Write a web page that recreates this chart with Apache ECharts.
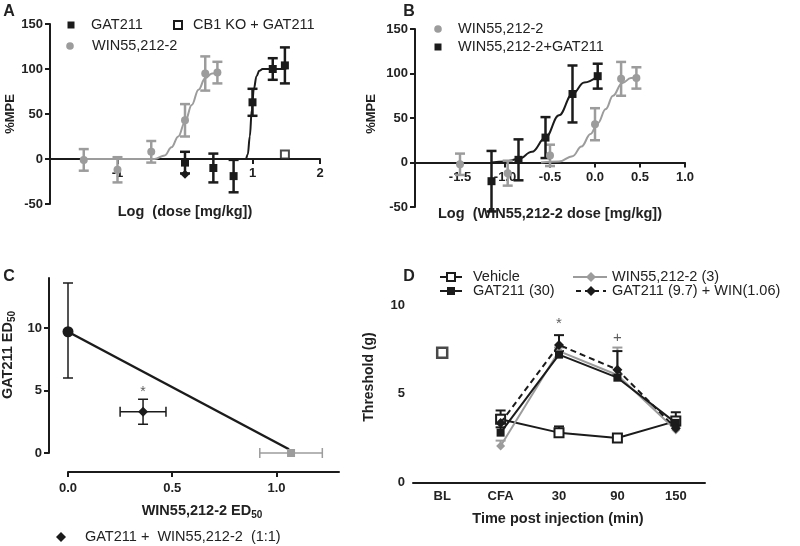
<!DOCTYPE html>
<html lang="en">
<head>
<meta charset="UTF-8">
<title>GAT211 / WIN55,212-2</title>
<script src="https://cdn.jsdelivr.net/npm/echarts@6/dist/echarts.min.js"></script>
<style>
  html, body { margin: 0; padding: 0; background: #fff; }
  #chart { width: 800px; height: 546px; }
</style>
</head>
<body>
<div id="chart"></div>
<script>
const GRAY = '#9c9c9c', BLACK = '#1b1b1b';
const FONT = "'Liberation Sans', Arial, sans-serif";

// panel A: dose response, log dose
const aWinX = [-1.5, -1.0, -0.5, 0.0, 0.3, 0.48];
const aWinY = [-1, -12, 8, 43, 95, 96];
const aWinErr = [12, 14, 12, 18, 19, 12];
const aGatX = [0.0, 0.42, 0.72, 1.0, 1.3, 1.48];
const aGatY = [-4, -10, -19, 63, 100, 104];
const aGatErr = [12, 16, 18, 15, 12, 20];
const aKoX = [1.48];
const aKoY = [5];
const aExtraX = [0.0];
const aExtraY = [-17];
const aWinFitX = [-1.5, -0.45, -0.3, -0.2, -0.1, 0.0, 0.1, 0.2, 0.3, 0.4, 0.48];
const aWinFitY = [0, 0, 4, 13, 25, 41, 60, 77, 90, 95, 96];
const aGatFitX = [0.0, 0.9, 0.93, 0.96, 0.99, 1.02, 1.06, 1.1, 1.15, 1.5];
const aGatFitY = [0, 0, 5, 25, 55, 78, 92, 98, 100, 100];

// panel B: WIN55,212-2 alone vs with GAT211
const bWinX = [-1.5, -0.97, -0.5, 0.0, 0.29, 0.46];
const bWinY = [-2, -12, 8, 43, 94, 95];
const bWinErr = [12, 14, 12, 18, 19, 12];
const bComboX = [-1.15, -0.85, -0.55, -0.25, 0.03];
const bComboY = [-21, 3, 28, 77, 97];
const bComboErr = [34, 23, 23, 32, 14];
const bWinFitX = [-0.6, -0.4, -0.25, -0.15, -0.05, 0.03, 0.12, 0.2, 0.3, 0.4, 0.48];
const bWinFitY = [0, 1, 7, 18, 32, 44, 60, 75, 89, 95, 96];
const bComboFitX = [-1.15, -1.0, -0.85, -0.7, -0.55, -0.4, -0.25, -0.12, 0.03];
const bComboFitY = [0, 1, 4, 12, 28, 53, 77, 90, 97];

// panel C: isobologram
const cLineX = [0, 1.06];
const cLineY = [9.7, 0.3];
const cGatPoint = [0, 9.7, 6.0, 13.6];      // x, y, low, high
const cWinPoint = [1.07, 0, 0.92, 1.22];    // x, y, low, high
const cMixPoint = [0.36, 3.3, 0.25, 0.47, 2.3, 4.3];

// panel D: time course
const dTime = ['BL', 'CFA', '30', '90', '150'];
const dVehicle = [7.3, 3.55, 2.8, 2.5, 3.45];
const dVehicleTop = [null, 4.05, 3.15, 2.7, 3.95];
const dGat = [null, 2.8, 7.2, 5.9, 3.35];
const dGatTop = [null, 3.1, 7.4, 6.1, 3.6];
const dWin = [null, 2.05, 7.4, 6.05, 2.95];
const dWinTop = [null, 2.35, 7.6, 7.6, 3.2];
const dCombo = [null, 3.35, 7.75, 6.35, 3.05];
const dComboTop = [null, 3.8, 8.3, 7.4, 3.4];
const dMarks = [[2, 8.95, '*'], [3, 8.15, '+']];

const zip = (xs, ys) => xs.map((x, i) => [x, ys[i]]);

function vErr(color, cap, w, lowCap) {
  return (params, api) => {
    const x = api.value(0);
    const a = api.coord([x, api.value(1)]);
    const b = api.coord([x, api.value(2)]);
    const st = { stroke: color, lineWidth: w };
    const kids = [
      { type: 'line', shape: { x1: a[0], y1: a[1], x2: b[0], y2: b[1] }, style: st },
      { type: 'line', shape: { x1: b[0] - cap, y1: b[1], x2: b[0] + cap, y2: b[1] }, style: st }
    ];
    if (lowCap) kids.push({ type: 'line', shape: { x1: a[0] - cap, y1: a[1], x2: a[0] + cap, y2: a[1] }, style: st });
    return { type: 'group', children: kids };
  };
}
function hErr(color, cap, w) {
  return (params, api) => {
    const y = api.value(2);
    const a = api.coord([api.value(0), y]);
    const b = api.coord([api.value(1), y]);
    const st = { stroke: color, lineWidth: w };
    return { type: 'group', children: [
      { type: 'line', shape: { x1: a[0], y1: a[1], x2: b[0], y2: b[1] }, style: st },
      { type: 'line', shape: { x1: a[0], y1: a[1] - cap, x2: a[0], y2: a[1] + cap }, style: st },
      { type: 'line', shape: { x1: b[0], y1: b[1] - cap, x2: b[0], y2: b[1] + cap }, style: st }
    ] };
  };
}
function errSeries(idx, data, render) {
  return { type: 'custom', xAxisIndex: idx, yAxisIndex: idx, renderItem: render,
    data: data, encode: { x: 0, y: [1, 2] }, silent: true, z: 3 };
}
function errSeriesH(idx, data, render) {
  return { type: 'custom', xAxisIndex: idx, yAxisIndex: idx, renderItem: render,
    data: data, encode: { x: [0, 1], y: 2 }, silent: true, z: 3 };
}
function fit(idx, xs, ys, color) {
  return { type: 'line', xAxisIndex: idx, yAxisIndex: idx, data: zip(xs, ys), showSymbol: false,
    smooth: 0.4, smoothMonotone: 'x', lineStyle: { color: color, width: 2 }, z: 2, silent: true };
}
function dots(idx, xs, ys, symbol, size, color, extra) {
  return Object.assign({ type: 'scatter', xAxisIndex: idx, yAxisIndex: idx, data: zip(xs, ys),
    symbol: symbol, symbolSize: size, itemStyle: { color: color, opacity: 1 }, z: 4, silent: true }, extra || {});
}

const axisLine = { onZero: false, lineStyle: { color: BLACK, width: 2 } };
const tick = { length: 5, lineStyle: { color: BLACK, width: 2 } };
const label = { fontFamily: FONT, fontWeight: 'bold', fontSize: 13, color: '#222' };
const noSplit = { show: false };

const grids = [
  { left: 50, right: 480, top: 24, bottom: 342 },
  { left: 415, right: 115, top: 29, bottom: 339 },
  { left: 68, right: 461, top: 278, bottom: 93 },
  { left: 413, right: 95, top: 305, bottom: 46 }
];

// x axes sit on y = 0: offset = -(pixels from the bottom of the grid to zero)
const xAxes = [
  { gridIndex: 0, type: 'value', min: -2, max: 2, offset: -45, axisLine: axisLine,
    axisTick: Object.assign({ customValues: [-1, 1, 2] }, tick),
    axisLabel: Object.assign({ customValues: [-1, 1, 2], margin: 8 }, label), splitLine: noSplit },
  { gridIndex: 1, type: 'value', min: -2, max: 1, offset: -44.5, axisLine: axisLine,
    axisTick: Object.assign({ customValues: [-1.5, -1, -0.5, 0, 0.5, 1] }, tick),
    axisLabel: Object.assign({ customValues: [-1.5, -1, -0.5, 0, 0.5, 1], margin: 8,
      formatter: v => v.toFixed(1) }, label), splitLine: noSplit },
  { gridIndex: 2, type: 'value', min: 0, max: 1.3, offset: 19, axisLine: axisLine,
    axisTick: Object.assign({ customValues: [0, 0.5, 1] }, tick),
    axisLabel: Object.assign({ customValues: [0, 0.5, 1], margin: 10, formatter: v => v.toFixed(1) }, label),
    splitLine: noSplit },
  { gridIndex: 3, type: 'category', data: dTime, boundaryGap: true, offset: -17.7, axisLine: axisLine,
    axisTick: Object.assign({ alignWithLabel: true }, tick),
    axisLabel: Object.assign({ margin: 8, interval: 0 }, label), splitLine: noSplit }
];

const yAxes = [
  { gridIndex: 0, type: 'value', min: -50, max: 150, interval: 50, axisLine: axisLine,
    axisTick: Object.assign({ show: true }, tick), axisLabel: Object.assign({ margin: 7 }, label), splitLine: noSplit },
  { gridIndex: 1, type: 'value', min: -50, max: 150, interval: 50, axisLine: axisLine,
    axisTick: Object.assign({ show: true }, tick), axisLabel: Object.assign({ margin: 7 }, label), splitLine: noSplit },
  { gridIndex: 2, type: 'value', min: 0, max: 14, offset: 19, axisLine: axisLine,
    axisTick: Object.assign({ customValues: [0, 5, 10] }, tick),
    axisLabel: Object.assign({ customValues: [0, 5, 10], margin: 7 }, label), splitLine: noSplit },
  { gridIndex: 3, type: 'value', min: -1, max: 10, axisLine: axisLine,
    axisTick: Object.assign({ customValues: [0, 5, 10] }, tick),
    axisLabel: Object.assign({ customValues: [0, 5, 10], margin: 8 }, label), splitLine: noSplit }
];

const series = [
  // A
  fit(0, aWinFitX, aWinFitY, GRAY),
  fit(0, aGatFitX, aGatFitY, BLACK),
  errSeries(0, aWinX.map((x, i) => [x, aWinY[i] - aWinErr[i], aWinY[i] + aWinErr[i]]), vErr(GRAY, 5, 2.5, true)),
  errSeries(0, aGatX.map((x, i) => [x, aGatY[i] - aGatErr[i], aGatY[i] + aGatErr[i]]), vErr(BLACK, 5, 2.5, true)),
  dots(0, aWinX, aWinY, 'circle', 8, GRAY),
  dots(0, aGatX, aGatY, 'rect', 8, BLACK),
  dots(0, aExtraX, aExtraY, 'diamond', 9, BLACK),
  dots(0, aKoX, aKoY, 'rect', 8, '#fff', { itemStyle: { color: '#fff', borderColor: BLACK, borderWidth: 2 } }),
  // B
  fit(1, bWinFitX, bWinFitY, GRAY),
  fit(1, bComboFitX, bComboFitY, BLACK),
  errSeries(1, bWinX.map((x, i) => [x, bWinY[i] - bWinErr[i], bWinY[i] + bWinErr[i]]), vErr(GRAY, 5, 2.5, true)),
  errSeries(1, bComboX.map((x, i) => [x, bComboY[i] - bComboErr[i], bComboY[i] + bComboErr[i]]), vErr(BLACK, 5, 2.5, true)),
  dots(1, bWinX, bWinY, 'circle', 8, GRAY),
  dots(1, bComboX, bComboY, 'rect', 8, BLACK),
  // C
  { type: 'line', xAxisIndex: 2, yAxisIndex: 2, data: zip(cLineX, cLineY), showSymbol: false,
    lineStyle: { color: BLACK, width: 2.5 }, z: 2, silent: true },
  errSeries(2, [[cGatPoint[0], cGatPoint[2], cGatPoint[3]]], vErr(BLACK, 5, 1.5, true)),
  errSeriesH(2, [[cWinPoint[2], cWinPoint[3], cWinPoint[1]]], hErr(GRAY, 5, 1.5)),
  errSeries(2, [[cMixPoint[0], cMixPoint[4], cMixPoint[5]]], vErr(BLACK, 5, 1.5, true)),
  errSeriesH(2, [[cMixPoint[2], cMixPoint[3], cMixPoint[1]]], hErr(BLACK, 5, 1.5)),
  dots(2, [cGatPoint[0]], [cGatPoint[1]], 'circle', 11, BLACK),
  dots(2, [cWinPoint[0]], [cWinPoint[1]], 'rect', 8, GRAY),
  dots(2, [cMixPoint[0]], [cMixPoint[1]], 'diamond', 10, BLACK),
  { type: 'scatter', xAxisIndex: 2, yAxisIndex: 2, data: [[cMixPoint[0], cMixPoint[5] + 0.6]], symbolSize: 0,
    label: { show: true, formatter: '*', color: '#333', fontSize: 14, fontFamily: FONT, position: 'inside' }, silent: true },
  // D
  errSeries(3, dVehicleTop.map((t, i) => t == null ? null : [i, dVehicle[i], t]).filter(Boolean), vErr(BLACK, 5, 2, false)),
  errSeries(3, dWinTop.map((t, i) => t == null ? null : [i, dWin[i], t]).filter(Boolean), vErr(GRAY, 5, 2, false)),
  errSeries(3, dGatTop.map((t, i) => t == null ? null : [i, dGat[i], t]).filter(Boolean), vErr(BLACK, 5, 2, false)),
  errSeries(3, dComboTop.map((t, i) => t == null ? null : [i, dCombo[i], t]).filter(Boolean), vErr(BLACK, 5, 2, false)),
  { type: 'line', xAxisIndex: 3, yAxisIndex: 3, data: dVehicle.map((v, i) => i === 0 ? null : v),
    symbol: 'rect', symbolSize: 9, lineStyle: { color: BLACK, width: 2 },
    itemStyle: { color: '#fff', borderColor: BLACK, borderWidth: 2 }, z: 4, silent: true },
  { type: 'scatter', xAxisIndex: 3, yAxisIndex: 3, data: [[0, dVehicle[0]]], symbol: 'rect', symbolSize: 10,
    itemStyle: { color: '#fff', borderColor: BLACK, borderWidth: 2.5 }, z: 4, silent: true },
  { type: 'line', xAxisIndex: 3, yAxisIndex: 3, data: dWin, symbol: 'diamond', symbolSize: 9,
    lineStyle: { color: GRAY, width: 2 }, itemStyle: { color: GRAY }, z: 4, silent: true },
  { type: 'line', xAxisIndex: 3, yAxisIndex: 3, data: dGat, symbol: 'rect', symbolSize: 8,
    lineStyle: { color: BLACK, width: 2 }, itemStyle: { color: BLACK }, z: 5, silent: true },
  { type: 'line', xAxisIndex: 3, yAxisIndex: 3, data: dCombo, symbol: 'diamond', symbolSize: 10,
    lineStyle: { color: BLACK, width: 2, type: [6, 4] }, itemStyle: { color: BLACK }, z: 5, silent: true },
  { type: 'scatter', xAxisIndex: 3, yAxisIndex: 3, data: dMarks, symbolSize: 0, silent: true,
    label: { show: true, formatter: p => p.value[2], color: '#333', fontSize: 15, fontFamily: FONT, position: 'inside' } }
];

// legends, titles and panel letters
const txt = (x, y, text, o) => ({ type: 'text', x: x, y: y, silent: true, rotation: (o && o.rot) || 0,
  style: Object.assign({ text: text, fontFamily: FONT, fontSize: 14.5, fill: '#222',
    align: 'left', verticalAlign: 'middle' }, (o && o.style) || {}) });
const bold = (x, y, text, size, rot) => txt(x, y, text, { rot: rot,
  style: { fontWeight: 'bold', fontSize: size, align: 'center' } });
const sq = (cx, cy, s, fill, stroke) => ({ type: 'rect', silent: true,
  shape: { x: cx - s / 2, y: cy - s / 2, width: s, height: s },
  style: stroke ? { fill: '#fff', stroke: stroke, lineWidth: 2 } : { fill: fill } });
const dot = (cx, cy, r, fill) => ({ type: 'circle', silent: true, shape: { cx: cx, cy: cy, r: r }, style: { fill: fill } });
const dia = (cx, cy, r, fill) => ({ type: 'polygon', silent: true,
  shape: { points: [[cx, cy - r], [cx + r, cy], [cx, cy + r], [cx - r, cy]] }, style: { fill: fill } });
const seg = (x1, x2, y, color, dash) => ({ type: 'line', silent: true, shape: { x1: x1, y1: y, x2: x2, y2: y },
  style: { stroke: color, lineWidth: 2, lineDash: dash || null } });

const ed50Rich = {
  m: { fontFamily: FONT, fontWeight: 'bold', fontSize: 14.5, fill: '#222' },
  s: { fontFamily: FONT, fontWeight: 'bold', fontSize: 10, fill: '#222', padding: [8, 0, 0, 0] }
};

const graphic = [
  bold(9, 12, 'A', 16), bold(409, 12, 'B', 16), bold(9, 277, 'C', 16), bold(409, 277, 'D', 16),
  // A
  sq(71, 25, 7, BLACK), txt(91, 25, 'GAT211'),
  sq(178, 25, 8, null, BLACK), txt(193, 25, 'CB1 KO + GAT211'),
  dot(70, 46, 3.8, GRAY), txt(92, 46, 'WIN55,212-2'),
  bold(10, 114, '%MPE', 13, Math.PI / 2),
  bold(185, 212, 'Log  (dose [mg/kg])', 14.5),
  // B
  dot(438, 29, 3.8, GRAY), txt(458, 29, 'WIN55,212-2'),
  sq(438, 47, 7, BLACK), txt(458, 47, 'WIN55,212-2+GAT211'),
  bold(371, 114, '%MPE', 13, Math.PI / 2),
  bold(550, 214, 'Log  (WIN55,212-2 dose [mg/kg])', 14.5),
  // C
  { type: 'text', x: 8, y: 355, rotation: Math.PI / 2, silent: true,
    style: { text: '{m|GAT211 ED}{s|50}', rich: ed50Rich, align: 'center', verticalAlign: 'middle' } },
  { type: 'text', x: 202, y: 511, silent: true,
    style: { text: '{m|WIN55,212-2 ED}{s|50}', rich: ed50Rich, align: 'center', verticalAlign: 'middle' } },
  dia(61, 537, 5, BLACK), txt(85, 537, 'GAT211 +  WIN55,212-2  (1:1)'),
  // D
  seg(440, 462, 277, BLACK), sq(451, 277, 8, null, BLACK), txt(473, 277, 'Vehicle'),
  seg(573, 607, 277, GRAY), dia(591, 277, 5, GRAY), txt(612, 277, 'WIN55,212-2 (3)'),
  seg(440, 462, 291, BLACK), sq(451, 291, 8, BLACK), txt(473, 291, 'GAT211 (30)'),
  seg(576, 606, 291, BLACK, [5, 4]), dia(591, 291, 5, BLACK), txt(612, 291, 'GAT211 (9.7) + WIN(1.06)'),
  bold(369, 377, 'Threshold (g)', 14, Math.PI / 2),
  bold(558, 519, 'Time post injection (min)', 14.5)
];

const chart = echarts.init(document.getElementById('chart'));
chart.setOption({
  animation: false,
  backgroundColor: '#fff',
  grid: grids,
  xAxis: xAxes,
  yAxis: yAxes,
  series: series,
  graphic: graphic
});
</script>
</body>
</html>
